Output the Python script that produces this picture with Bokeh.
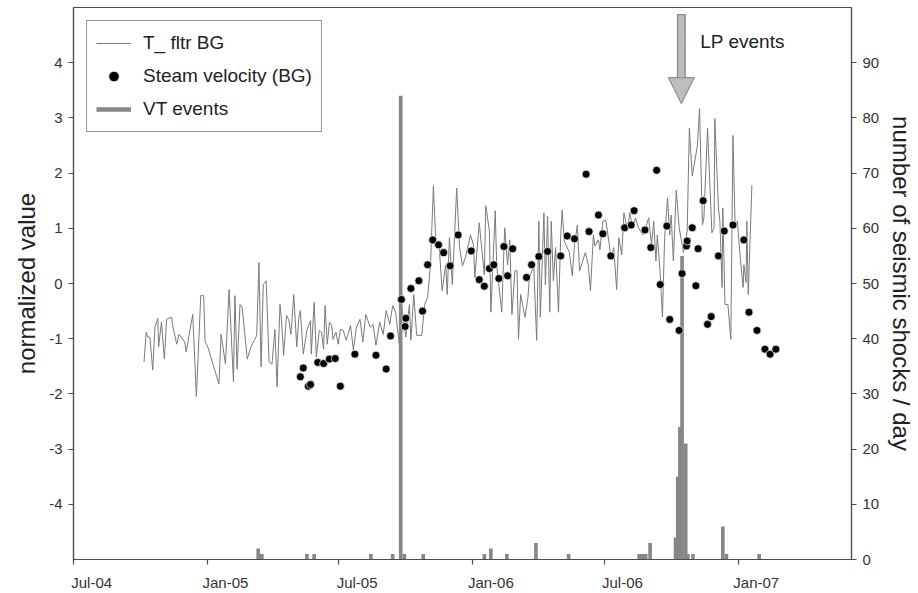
import pandas as pd
from bokeh.plotting import figure
from bokeh.models import (Range1d, LinearAxis, FixedTicker, Legend, LegendItem,
                          Arrow, NormalHead, Label, DatetimeTickFormatter)
from bokeh.embed import file_html
from bokeh.resources import INLINE

# ---------------- data (days counted from 2004-07-01) ----------------
BASE = "2004-07-01"

t_day = [97, 100, 102, 105, 109, 112, 116, 117, 121, 125, 128, 135, 136, 142, 145, 153, 155,
         164, 169, 172, 175, 179, 181, 184, 200, 203, 209, 214, 220, 222, 225, 229, 232, 239,
         244, 252, 255, 258, 261, 265, 269, 273, 277, 280, 284, 286, 289, 293, 296, 299, 303,
         307, 310, 312, 316, 321, 326, 327, 331, 334, 338, 341, 344, 346, 349, 352, 355, 357,
         361, 364, 367, 371, 375, 381, 385, 389, 394, 398, 402, 408, 412, 416, 421, 426, 430,
         435, 439, 443, 449, 451, 457, 462, 464, 468, 472, 479, 483, 487, 491, 495, 498, 503,
         507, 512, 514, 517, 521, 527, 531, 535, 539, 546, 550, 552, 558, 561, 565, 567, 572,
         574, 580, 582, 589, 593, 597, 600, 603, 607, 610, 612, 615, 621, 625, 627, 633, 637,
         640, 642, 647, 649, 652, 655, 657, 660, 663, 667, 670, 672, 675, 682, 686, 689, 693,
         696, 704, 708, 711, 715, 717, 722, 724, 728, 732, 737, 739, 743, 747, 750, 754, 757,
         762, 765, 769, 773, 777, 783, 787, 791, 795, 798, 801, 803, 807, 810, 813, 817, 820,
         822, 825, 829, 833, 839, 844, 847, 851, 854, 858, 861, 865, 867, 872, 874, 878, 881,
         882, 887, 889, 892, 893, 896, 900, 904, 907, 910, 913, 917, 921, 922, 925, 926, 928,
         933]
t_val = [-1.42, -0.88, -0.97, -0.97, -1.57, -0.79, -0.63, -1.15, -0.70, -1.37, -0.65, -0.61,
         -0.74, -1.10, -0.92, -1.06, -1.24, -0.56, -2.05, -1.15, -0.22, -0.22, -1.06, -1.12,
         -1.82, -0.92, -1.46, -0.11, -1.78, -0.22, -1.55, -0.38, -0.43, -1.37, -1.15, -0.94,
         0.38, -1.51, -0.02, 0.05, -1.42, -1.46, -0.83, -1.87, -0.38, -0.65, -1.30, -0.58,
         -0.65, -0.92, -0.20, -1.15, -0.61, -0.49, -1.28, -0.85, -0.67, -1.28, -0.34, -1.33,
         -0.85, -0.88, -1.19, -0.40, -1.10, -0.70, -0.76, -1.01, -0.88, -1.10, -0.83, -0.85,
         -1.03, -0.76, -1.21, -0.79, -0.65, -1.06, -0.56, -0.79, -0.74, -1.12, -0.70, -0.92,
         -0.49, -0.74, -0.40, -0.52, -1.21, -0.38, -0.97, -0.38, -1.03, -0.20, -0.94, -0.94,
         -0.38, -0.25, 0.34, 1.77, 0.83, 0.65, -0.13, 0.34, -0.20, 0.83, -0.02, 1.73, 0.65,
         0.32, 0.47, 0.88, 0.70, 0.11, 1.10, 0.70, 0.16, 1.41, 0.95, -0.52, 1.32, 0.34, -0.52,
         1.01, 0.34, 0.79, -0.56, 0.23, 0.23, -1.01, -0.20, -0.61, -0.25, 0.11, 0.32, -1.03,
         1.13, -0.61, 1.28, -0.02, 1.22, -0.52, 1.13, 0.05, 0.65, -0.52, 0.83, 1.33, 0.77,
         0.56, 0.14, 0.70, 1.06, 0.23, 0.56, 0.34, -0.13, 0.88, 0.68, 0.79, 0.61, 1.13, 1.15,
         0.70, 0.43, 0.65, -0.11, 0.83, 0.52, 1.28, 0.97, 1.28, 1.01, 1.19, 1.01, 0.88, 1.01,
         1.19, 0.70, 1.13, 0.41, 0.88, 0.16, -0.61, 0.83, 1.55, 0.88, 1.24, 0.41, 1.69, 1.01,
         0.56, 0.95, 2.81, 1.95, 2.18, 2.49, 3.17, 1.06, 1.19, 2.81, 2.18, 0.92, 1.01, 2.99,
         1.37, 1.13, -0.07, 1.37, -0.38, -0.38, -1.01, 2.68, 1.01, 1.13, 0.47, -0.07, 0.34,
         0.02, 1.13, -0.20, 1.78]

sv_day = [312, 316, 323, 326, 336, 344, 352, 360, 367, 387, 416, 430, 436, 451, 456, 457,
          464, 475, 480, 487, 494, 502, 509, 518, 529, 547, 558, 565, 572, 578, 585, 592,
          597, 604, 623, 630, 640, 652, 670, 679, 689, 705, 709, 722, 728, 739, 758, 767,
          771, 786, 794, 802, 807, 816, 820, 833, 837, 843, 844, 851, 856, 859, 866, 872,
          877, 887, 895, 907, 922, 929, 940, 951, 958, 966]
sv_val = [-1.69, -1.53, -1.86, -1.83, -1.43, -1.45, -1.37, -1.36, -1.86, -1.28, -1.30, -1.55,
          -0.95, -0.29, -0.78, -0.63, -0.09, 0.05, -0.50, 0.34, 0.79, 0.70, 0.56, 0.32, 0.88,
          0.59, 0.07, -0.05, 0.27, 0.34, 0.09, 0.67, 0.14, 0.63, 0.11, 0.34, 0.49, 0.58, 0.50,
          0.86, 0.81, 1.98, 0.94, 1.24, 0.90, 0.50, 1.01, 1.06, 1.32, 0.97, 0.65, 2.05, -0.02,
          1.04, -0.65, -0.85, 0.18, 0.68, 0.77, 1.01, -0.04, 0.63, 1.50, -0.74, -0.60, 0.50,
          0.95, 1.06, 0.79, -0.52, -0.85, -1.19, -1.28, -1.19]

vt_day = [254, 259, 321, 331, 409, 439, 450, 455, 481, 565, 574, 596, 636, 681, 778, 783,
          787, 793, 828, 831, 834, 837, 842, 845, 852, 893, 898, 943]
vt_count = [2, 1, 1, 1, 1, 1, 84, 1, 1, 1, 2, 1, 3, 1, 1, 1, 1, 3, 4, 15, 24, 55, 21, 1, 1,
            6, 1, 1]

tick_dates = ["2004-07-01", "2005-01-01", "2005-07-01", "2006-01-01", "2006-07-01", "2007-01-01"]
tick_labels = ["Jul-04", "Jan-05", "Jul-05", "Jan-06", "Jul-06", "Jan-07"]
left_ticks = [-4, -3, -2, -1, 0, 1, 2, 3, 4]
right_ticks = [0, 10, 20, 30, 40, 50, 60, 70, 80, 90]
lp_event_day = 836   # onset of the LP swarm (arrow)

# ---------------- helpers ----------------
DAY_MS = 86400000.0
base = pd.Timestamp(BASE)


def to_dt(days):
    return base + pd.to_timedelta(days, unit="D")


def to_ms(ts):
    return pd.Timestamp(ts).value / 1e6


FONT = "Liberation Sans"
AXC = "#4d4d4d"
TXT = "#222222"

x_start = to_ms("2004-07-01")
x_end = to_ms("2007-06-06")

p = figure(width=918, height=593, x_axis_type="datetime",
           x_range=Range1d(x_start, x_end), y_range=Range1d(-5, 5),
           output_backend="svg", toolbar_location=None,
           min_border_left=73, min_border_right=58, min_border_top=7, min_border_bottom=31)
p.background_fill_color = "white"
p.border_fill_color = "white"
p.outline_line_color = AXC
p.outline_line_width = 1.2
p.xgrid.visible = False
p.ygrid.visible = False
p.extra_y_ranges = {"count": Range1d(0, 100)}

# series
line_r = p.line(to_dt(t_day), t_val, line_color="#7a7a7a", line_width=1.0)
p.vbar(x=to_dt(vt_day), top=vt_count, bottom=0, width=5 * DAY_MS,
       y_range_name="count", fill_color="#868686", line_color=None)
dots_r = p.scatter(to_dt(sv_day), sv_val, size=8, marker="circle",
                   fill_color="black", line_color="white", line_width=0.7)
# legend-only swatch for the VT bars (a thick grey line, as in the original key)
vt_proxy = p.line(x=[x_start], y=[float("nan")], line_color="#868686", line_width=4.5,
                  y_range_name="count")

# x axis: real tick marks as minor ticks, labels placed just right of them
tick_ms = [to_ms(d) for d in tick_dates]
label_ms = [m + 25 * DAY_MS for m in tick_ms]
xa = p.xaxis[0]
xa.ticker = FixedTicker(ticks=label_ms, minor_ticks=tick_ms)
xa.formatter = DatetimeTickFormatter(days="%b-%y", months="%b-%y", years="%b-%y")
xa.major_label_overrides = dict(zip(label_ms, tick_labels))
xa.major_tick_line_color = None
xa.major_tick_out = 5
xa.major_tick_in = 0
xa.minor_tick_line_color = AXC
xa.minor_tick_line_width = 1.2
xa.minor_tick_out = 5
xa.minor_tick_in = 0
xa.major_label_standoff = 9

# left axis
ya = p.yaxis[0]
ya.ticker = FixedTicker(ticks=left_ticks)
ya.major_label_overrides = {t: str(t) for t in left_ticks}
ya.axis_label = "normalized value"
ya.axis_label_standoff = 6

# right axis
ra = LinearAxis(y_range_name="count", ticker=FixedTicker(ticks=right_ticks),
                axis_label="number of seismic shocks / day")
ra.axis_label_standoff = 6
p.add_layout(ra, "right")

for ax in [xa, ya, ra]:
    ax.axis_line_color = AXC
    ax.axis_line_width = 1.2
    ax.major_label_text_font = FONT
    ax.major_label_text_font_size = "15px"
    ax.major_label_text_color = "#333333"
    ax.axis_label_text_font = FONT
    ax.axis_label_text_font_size = "24px"
    ax.axis_label_text_font_style = "normal"
    ax.axis_label_text_color = TXT
for ax in [ya, ra]:
    ax.major_tick_line_color = AXC
    ax.major_tick_line_width = 1.2
    ax.major_tick_out = 5
    ax.major_tick_in = 0
    ax.minor_tick_line_color = None
    ax.major_label_standoff = 6

# legend
legend = Legend(items=[LegendItem(label="T_ fltr BG", renderers=[line_r]),
                       LegendItem(label="Steam velocity (BG)", renderers=[dots_r]),
                       LegendItem(label="VT events", renderers=[vt_proxy])],
                location="top_left", margin=13, padding=9, spacing=7,
                glyph_width=35, glyph_height=26, label_height=26, label_standoff=12,
                label_text_font=FONT, label_text_font_size="19px", label_text_color=TXT,
                border_line_color="#333333", border_line_width=1.2,
                background_fill_color="white", background_fill_alpha=1.0)
p.add_layout(legend, "center")

# LP events arrow + label
lp_ms = to_ms(to_dt(lp_event_day))
p.add_layout(Arrow(x_start=lp_ms, y_start=4.88, x_end=lp_ms, y_end=3.26,
                   line_width=9, line_color="#8f8f8f",
                   end=NormalHead(size=26, fill_color="#bdbdbd", line_color="#8f8f8f",
                                  line_width=1.2)))
p.add_layout(Arrow(x_start=lp_ms, y_start=4.86, x_end=lp_ms, y_end=3.26 + 26.5 / 55.5,
                   line_width=6, line_color="#bdbdbd", end=None))
p.add_layout(Label(x=lp_ms + 26 * DAY_MS, y=4.38, text="LP events", text_font=FONT,
                   text_font_size="19px", text_color=TXT, text_baseline="middle",
                   text_align="left"))

open("out.html", "w").write(file_html(p, INLINE))
